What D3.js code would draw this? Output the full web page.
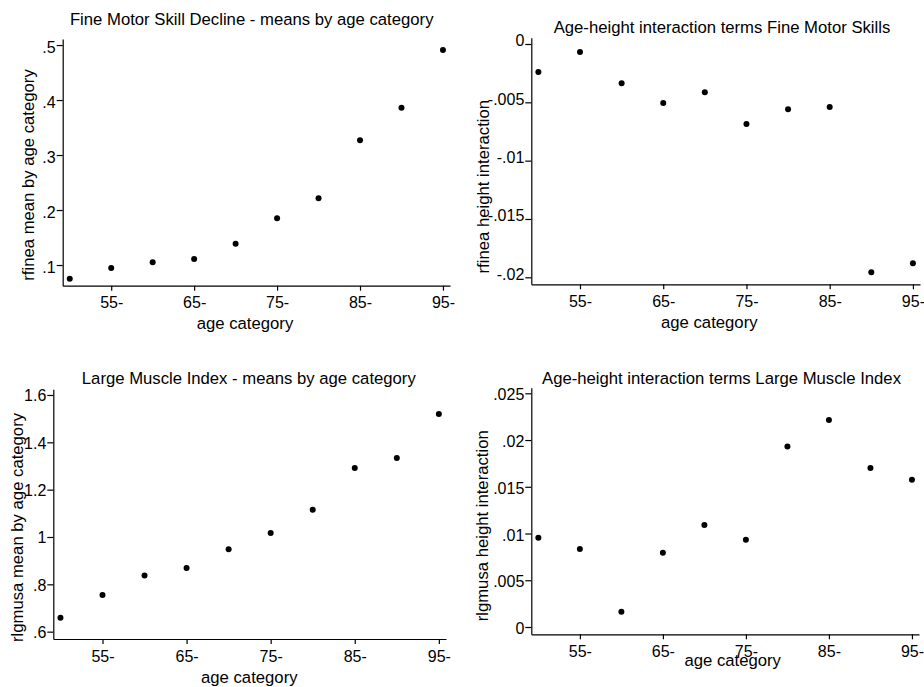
<!DOCTYPE html>
<html>
<head>
<meta charset="utf-8">
<script src="https://cdn.jsdelivr.net/npm/d3@7"></script>
<style>
  body { margin: 0; background: #fff; }
  svg { display: block; }
  text { font-family: "Liberation Sans", Arial, sans-serif; fill: #000; }
</style>
</head>
<body>
<div id="chart"></div>
<script>
// age categories (x) and the labelled ticks
let ageCategories = [50, 55, 60, 65, 70, 75, 80, 85, 90, 95];
let ageTicks = [55, 65, 75, 85, 95];
let ageTickLabels = ["55-", "65-", "75-", "85-", "95-"];

// series values
let fineMotorMeans = [0.075, 0.0945, 0.105, 0.111, 0.1387, 0.185, 0.2213, 0.3267, 0.386, 0.491];
let fineMotorInteraction = [-0.0024, -0.00069, -0.00337, -0.00506, -0.00414, -0.00686, -0.0056, -0.0054, -0.01957, -0.0188];
let largeMuscleMeans = [0.659, 0.755, 0.837, 0.869, 0.948, 1.017, 1.115, 1.292, 1.334, 1.52];
let largeMuscleInteraction = [0.00955, 0.00835, 0.00164, 0.00795, 0.0109, 0.00934, 0.0193, 0.02215, 0.0170, 0.01576];

// y tick values and labels
let fineMotorTicks = [0.1, 0.2, 0.3, 0.4, 0.5];
let fineMotorTickLabels = [".1", ".2", ".3", ".4", ".5"];
let fineInterTicks = [0, -0.005, -0.01, -0.015, -0.02];
let fineInterTickLabels = ["0", "-.005", "-.01", "-.015", "-.02"];
let largeMuscleTicks = [0.6, 0.8, 1, 1.2, 1.4, 1.6];
let largeMuscleTickLabels = [".6", ".8", "1", "1.2", "1.4", "1.6"];
let largeInterTicks = [0, 0.005, 0.01, 0.015, 0.02, 0.025];
let largeInterTickLabels = ["0", ".005", ".01", ".015", ".02", ".025"];

let svgWidth = 924;
let svgHeight = 687;

let svg = d3.select("#chart")
  .append("svg")
  .attr("width", svgWidth)
  .attr("height", svgHeight);

svg.append("rect")
  .attr("width", svgWidth)
  .attr("height", svgHeight)
  .attr("fill", "#fff");

// one entry per panel of the combined graph
let panels = [
  {
    title: "Fine Motor Skill Decline - means by age category",
    yTitle: "rfinea mean by age category",
    values: fineMotorMeans, ticks: fineMotorTicks, tickLabels: fineMotorTickLabels,
    left: 62.7, right: 450, top: 39, bottom: 285.7,
    yDomain: [0.0624, 0.511], labelDy: 7,
    titleX: 251.7, titleY: 25, xTitleX: 245, xTitleY: 329,
    yTitleX: 33.5, yTitleY: 175
  },
  {
    title: "Age-height interaction terms Fine Motor Skills",
    yTitle: "rfinea height interaction",
    values: fineMotorInteraction, ticks: fineInterTicks, tickLabels: fineInterTickLabels,
    left: 531.3, right: 920, top: 37.7, bottom: 284.3,
    yDomain: [-0.0206, 0.00054], labelDy: 2,
    titleX: 722, titleY: 33.3, xTitleX: 709.3, xTitleY: 328,
    yTitleX: 489, yTitleY: 186.7
  },
  {
    title: "Large Muscle Index - means by age category",
    yTitle: "rlgmusa mean by age category",
    values: largeMuscleMeans, ticks: largeMuscleTicks, tickLabels: largeMuscleTickLabels,
    left: 53.3, right: 446, top: 389.3, bottom: 639,
    yDomain: [0.569, 1.624], labelDy: 6,
    titleX: 248.8, titleY: 384, xTitleX: 249.3, xTitleY: 682.7,
    yTitleX: 22.5, yTitleY: 527.5
  },
  {
    title: "Age-height interaction terms Large Muscle Index",
    yTitle: "rlgmusa height interaction",
    values: largeMuscleInteraction, ticks: largeInterTicks, tickLabels: largeInterTickLabels,
    left: 531.3, right: 919, top: 387.7, bottom: 634.3,
    yDomain: [-0.00078, 0.0256], labelDy: 6.5,
    titleX: 721.5, titleY: 384, xTitleX: 732.7, xTitleY: 666,
    yTitleX: 487.5, yTitleY: 525.8
  }
];

panels.forEach(function(p) {
  let xScale = d3.scaleLinear()
    .domain([49.15, 95.85])
    .range([p.left, p.right]);

  let yScale = d3.scaleLinear()
    .domain(p.yDomain)
    .range([p.bottom, p.top]);

  let g = svg.append("g");

  // title
  g.append("text")
    .attr("x", p.titleX)
    .attr("y", p.titleY)
    .attr("text-anchor", "middle")
    .style("font-size", "16.7px")
    .text(p.title);

  // x axis
  let bottomAxis = d3.axisBottom(xScale)
    .tickValues(ageTicks)
    .tickFormat((d, i) => ageTickLabels[i])
    .tickSize(5)
    .tickSizeOuter(0);

  let xAxisG = g.append("g")
    .attr("transform", `translate(0, ${p.bottom})`)
    .call(bottomAxis);
  xAxisG.selectAll("text")
    .attr("dy", null)
    .attr("y", 22.5)
    .style("font-size", "16px");

  // y axis
  let leftAxis = d3.axisLeft(yScale)
    .tickValues(p.ticks)
    .tickFormat((d, i) => p.tickLabels[i])
    .tickSize(6)
    .tickSizeOuter(0)
    .tickPadding(1);

  let yAxisG = g.append("g")
    .attr("transform", `translate(${p.left}, 0)`)
    .call(leftAxis);
  yAxisG.selectAll("text")
    .attr("dy", null)
    .attr("y", p.labelDy)
    .style("font-size", "16px");

  [xAxisG, yAxisG].forEach(function(a) {
    a.attr("font-family", null).attr("font-size", null);
    a.selectAll("path, line").attr("stroke", "#000").attr("stroke-width", 1.2);
  });

  // axis titles
  g.append("text")
    .attr("x", p.xTitleX)
    .attr("y", p.xTitleY)
    .attr("text-anchor", "middle")
    .style("font-size", "16.7px")
    .text("age category");

  g.append("text")
    .attr("transform", `translate(${p.yTitleX}, ${p.yTitleY}) rotate(-90)`)
    .attr("text-anchor", "middle")
    .style("font-size", "16.7px")
    .text(p.yTitle);

  // points
  g.selectAll("circle")
    .data(p.values)
    .enter()
    .append("circle")
    .attr("cx", (d, i) => xScale(ageCategories[i]))
    .attr("cy", d => yScale(d))
    .attr("r", 3)
    .attr("fill", "#000");
});
</script>
</body>
</html>
